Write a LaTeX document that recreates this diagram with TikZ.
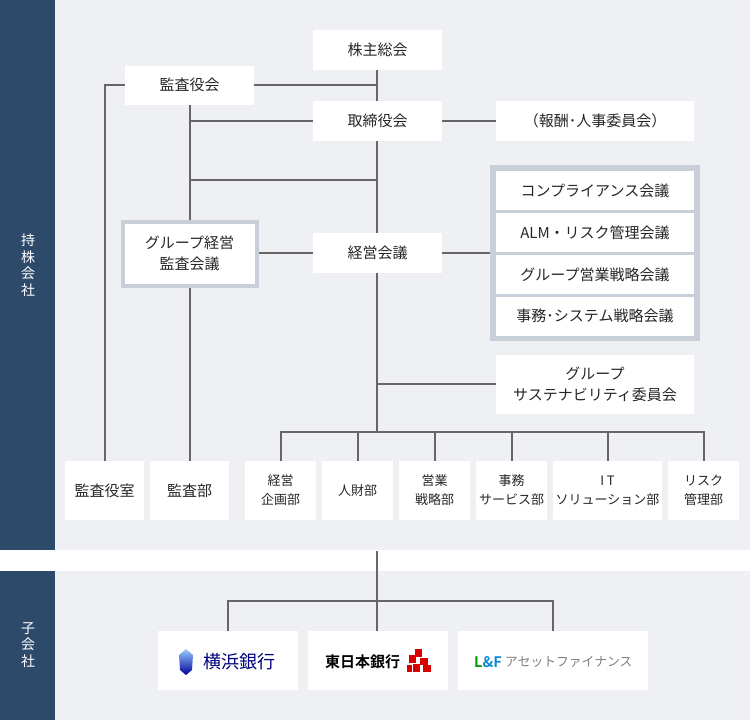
\documentclass[tikz,border=0pt]{standalone}
\usepackage{fontspec}
\setmainfont{Noto Sans CJK JP}
\newfontfamily\boldjp{Noto Sans CJK JP Bold}
\begin{document}
\begin{tikzpicture}[x=1pt,y=-1pt,font=\fontsize{15}{21}\selectfont,
  bx/.style={fill=white,draw=none,inner sep=0pt,align=center,text=black!85},
  ln/.style={draw=black!60,line width=1.6pt}]
\definecolor{navy}{HTML}{2D4A6B}
\definecolor{bgc}{HTML}{EFF0F4}
\definecolor{brd}{HTML}{C9CFD8}
\useasboundingbox (0,0) rectangle (750,720);
\fill[white] (0,0) rectangle (750,720);
\fill[bgc] (55,0) rectangle (750,550);
\fill[bgc] (55,571) rectangle (750,720);
\fill[navy] (0,0) rectangle (55,550);
\fill[navy] (0,571) rectangle (55,720);
\node[text=white,align=center,font=\fontsize{14}{16.5}\selectfont] (l1) at (28,265) {持\\株\\会\\社};
\node[text=white,align=center,font=\fontsize{14}{16.5}\selectfont] (l2) at (28,645) {子\\会\\社};
% lines first
\coordinate (c85) at (377,85);
\coordinate (c180) at (377,180);
\coordinate (l190) at (190,180);
\coordinate (b432) at (377,432);
\draw[ln] (377,50) -- (b432);
\draw[ln] (190,85) -- (c85);
\draw[ln] (190,85) -- (105,85) -- (105,490);
\draw[ln] (190,85) -- (190,490);
\draw[ln] (190,121) -- (377,121) -- (595,121);
\draw[ln] (l190) -- (c180);
\draw[ln] (190,253) -- (595,253);
\draw[ln] (377,384) -- (595,384);
\draw[ln] (281,490) -- (281,432) -- (704,432) -- (704,490);
\foreach \x in {358,435,512,608} \draw[ln] (\x,432) -- (\x,490);
\draw[ln] (377,551) -- (377,601);
\draw[ln] (228,650) -- (228,601) -- (553,601) -- (553,650);
\draw[ln] (377,601) -- (377,650);
% boxes
\node[bx,minimum width=129,minimum height=40] (kabu) at (377.5,50) {株主総会};
\node[bx,minimum width=129,minimum height=39] (kansa) at (189.5,85) {監査役会};
\node[bx,minimum width=129,minimum height=40] (tori) at (377.5,121) {取締役会};
\node[bx,minimum width=198,minimum height=40] (hoshu) at (595,121) {（報酬･人事委員会）};
\node[bx,minimum width=134,minimum height=64,draw=brd,line width=4pt] (gk) at (189.5,253.5) {グループ経営\\監査会議};
\node[bx,minimum width=129,minimum height=40] (keiei) at (377.5,253) {経営会議};
\fill[brd] (490,165) rectangle (700,341);
\node[bx,minimum width=198,minimum height=39] (k1) at (595,190.5) {コンプライアンス会議};
\node[bx,minimum width=198,minimum height=39] (k2) at (595,232.5) {ALM・リスク管理会議};
\node[bx,minimum width=198,minimum height=39] (k3) at (595,274.5) {グループ営業戦略会議};
\node[bx,minimum width=198,minimum height=39] (k4) at (595,316) {事務･システム戦略会議};
\node[bx,minimum width=198,minimum height=59] (sus) at (595,384.5) {グループ\\サステナビリティ委員会};
\node[bx,minimum width=79,minimum height=59] (b1) at (104.5,490.5) {監査役室};
\node[bx,minimum width=79,minimum height=59] (b2) at (189.5,490.5) {監査部};
\begin{scope}[font=\fontsize{13}{19}\selectfont]
\node[bx,minimum width=71,minimum height=59] (d1) at (280.5,490.5) {経営\\企画部};
\node[bx,minimum width=71,minimum height=59] (d2) at (357.5,490.5) {人財部};
\node[bx,minimum width=71,minimum height=59] (d3) at (434.5,490.5) {営業\\戦略部};
\node[bx,minimum width=71,minimum height=59] (d4) at (511.5,490.5) {事務\\サービス部};
\node[bx,minimum width=109,minimum height=59] (d5) at (607.5,490.5) {I T\\ソリューション部};
\node[bx,minimum width=71,minimum height=59] (d6) at (703.5,490.5) {リスク\\管理部};
\end{scope}
% subsidiaries
\node[bx,minimum width=140,minimum height=59] (s1) at (228,660.5) {};
\node[bx,minimum width=140,minimum height=59] (s2) at (378,660.5) {};
\node[bx,minimum width=190,minimum height=59] (s3) at (553,660.5) {};
\shade[top color=cyan!50!blue!40, bottom color=blue!60!black] (186,649) -- (193,655) -- (192,670) -- (186,675) -- (180,670) -- (179,655) -- cycle;
\node[text=blue!50!black,font=\fontsize{18}{20}\selectfont,anchor=west,inner sep=0pt] (t1) at (203,662) {横浜銀行};
\node[text=black,font=\boldjp\fontsize{15}{18}\selectfont,anchor=west,inner sep=0pt] (t2) at (325,662) {東日本銀行};
\begin{scope}[red!85!black]
\fill (415,649) rectangle (422,657);
\fill (409,655) rectangle (416,663);
\fill (420,658) rectangle (428,665);
\fill (413,664) rectangle (420,672);
\fill (423,665) rectangle (431,672);
\fill (407,665) rectangle (412,672);
\end{scope}
\node[font=\boldjp\fontsize{14.5}{18}\selectfont,anchor=west,inner sep=0pt] (lf) at (474,662) {\textcolor{green!60!black}{L}\textcolor{cyan!70!blue}{\&F}};
\node[text=gray,font=\fontsize{12.8}{18}\selectfont,anchor=west,inner sep=0pt] (t3) at (505,662) {アセットファイナンス};
\end{tikzpicture}
\end{document}
